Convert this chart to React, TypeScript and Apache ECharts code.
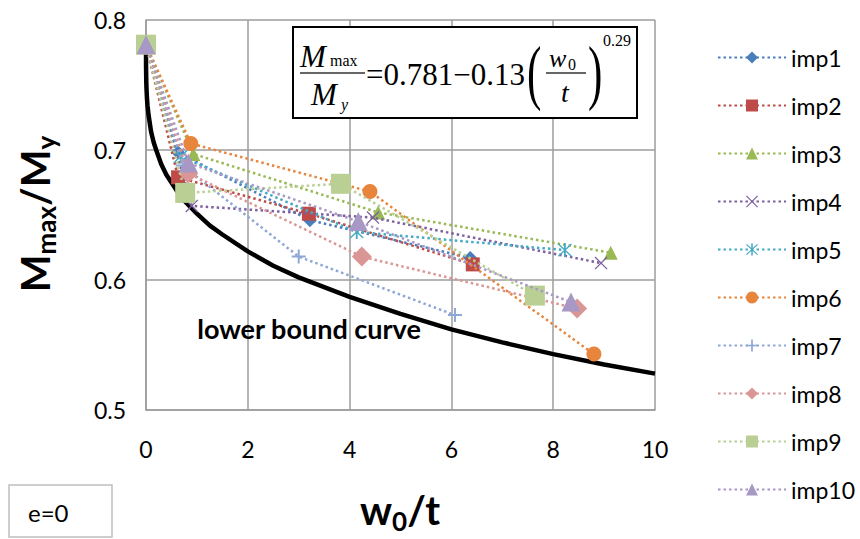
import React, { useEffect, useRef } from "react";
import * as echarts from "echarts";

// ---------- data ----------
const xTicks = [0, 2, 4, 6, 8, 10];
const yTicks = [0.5, 0.6, 0.7, 0.8];

const seriesNames = ["imp1", "imp2", "imp3", "imp4", "imp5", "imp6", "imp7", "imp8", "imp9", "imp10"];

const imp1X = [0, 0.63, 3.22, 6.37];
const imp1Y = [0.781, 0.698, 0.646, 0.617];
const imp2X = [0, 0.63, 3.2, 6.42];
const imp2Y = [0.781, 0.679, 0.651, 0.612];
const imp3X = [0, 0.93, 4.56, 9.13];
const imp3Y = [0.781, 0.697, 0.652, 0.621];
const imp4X = [0, 0.9, 4.46, 8.94];
const imp4Y = [0.781, 0.657, 0.648, 0.613];
const imp5X = [0, 0.68, 4.14, 8.23];
const imp5Y = [0.781, 0.695, 0.637, 0.623];
const imp6X = [0, 0.88, 4.4, 8.8];
const imp6Y = [0.781, 0.705, 0.668, 0.543];
const imp7X = [0, 0.72, 3.0, 6.07];
const imp7Y = [0.781, 0.688, 0.618, 0.573];
const imp8X = [0, 0.83, 4.24, 8.47];
const imp8Y = [0.781, 0.682, 0.618, 0.578];
const imp9X = [0, 0.77, 3.83, 7.64];
const imp9Y = [0.781, 0.667, 0.674, 0.588];
const imp10X = [0, 0.83, 4.17, 8.35];
const imp10Y = [0.781, 0.69, 0.645, 0.583];

const curveX = [0, 0.001, 0.005, 0.01, 0.02, 0.03, 0.05, 0.1, 0.15, 0.2, 0.3, 0.4, 0.5, 0.6, 0.75, 0.8, 1, 1.25, 1.5, 2, 2.5, 3, 4, 5, 6, 7, 8, 9, 10];
const curveY = [0.781, 0.764, 0.753, 0.747, 0.739, 0.734, 0.727, 0.714, 0.706, 0.7, 0.689, 0.681, 0.675, 0.669, 0.661, 0.659, 0.651, 0.642, 0.635, 0.622, 0.611, 0.602, 0.587, 0.574, 0.562, 0.552, 0.543, 0.535, 0.528];

const curveLabel = "lower bound curve";
const boxLabel = "e=0";

// ---------- styles ----------
const colors = ["#4A7EBB", "#BE4B48", "#98B954", "#7D60A0", "#46AAC5", "#E8853D", "#8EA7D6", "#D99694", "#B9CF94", "#A898C5"];
const PLUS = "path://M-1,-7L1,-7L1,-1L7,-1L7,1L1,1L1,7L-1,7L-1,1L-7,1L-7,-1L-1,-1Z";
const CROSS = "path://M-6,-7L7,6L6,7L-7,-6Z M6,-7L7,-6L-6,7L-7,6Z";
const STAR = "path://M-6,-7L7,6L6,7L-7,-6Z M6,-7L7,-6L-6,7L-7,6Z M-0.9,-7.5L0.9,-7.5L0.9,7.5L-0.9,7.5Z";
const symbols = ["diamond", "rect", "triangle", CROSS, STAR, "circle", PLUS, "diamond", "rect", "triangle"];
const symbolSizes = [14, 14, 14, 13, 14, 15, 14, 20, 20, 19];

const SANS = "Lato, 'Open Sans', sans-serif";
const SERIF = "'Liberation Serif', 'DejaVu Serif', serif";
const GRID = "#9C9C9C";

const allX = [imp1X, imp2X, imp3X, imp4X, imp5X, imp6X, imp7X, imp8X, imp9X, imp10X];
const allY = [imp1Y, imp2Y, imp3Y, imp4Y, imp5Y, imp6Y, imp7Y, imp8Y, imp9Y, imp10Y];

export default function App() {
  const ref = useRef<HTMLDivElement>(null);
  useEffect(() => {
    if (!ref.current) return;
    const chart = echarts.init(ref.current, undefined, { renderer: "svg" });

    const impSeries = seriesNames.map((name, i) => ({
      name,
      type: "line",
      data: allX[i].map((x, k) => [x, allY[i][k]]),
      symbol: symbols[i],
      symbolSize: symbolSizes[i],
      showAllSymbol: true,
      color: colors[i],
      itemStyle: { color: colors[i], borderWidth: 0 },
      lineStyle: { color: colors[i], width: 2.5, type: [2.5, 3] },
      z: 3 + i,
    }));

    chart.setOption({
      animation: false,
      grid: { left: 146, right: 205, top: 20, bottom: 129, containLabel: false },
      xAxis: {
        type: "value",
        min: 0,
        max: 10,
        interval: 2,
        axisLine: { show: true, lineStyle: { color: GRID, width: 1.5 } },
        axisTick: { show: false },
        splitLine: { show: true, lineStyle: { color: GRID, width: 1.5 } },
        axisLabel: { fontSize: 23, color: "#000", margin: 27, fontFamily: SANS, formatter: (v: number) => (xTicks.includes(v) ? String(v) : "") },
      },
      yAxis: {
        type: "value",
        min: 0.5,
        max: 0.8,
        interval: 0.1,
        axisLine: { show: true, lineStyle: { color: GRID, width: 1.5 } },
        axisTick: { show: false },
        splitLine: { show: true, lineStyle: { color: GRID, width: 1.5 } },
        axisLabel: {
          fontSize: 23,
          color: "#000",
          margin: 20,
          fontFamily: SANS,
          formatter: (v: number) => {
            const t = yTicks.find((y) => Math.abs(y - v) < 1e-6);
            return t === undefined ? "" : t.toFixed(1);
          },
        },
      },
      legend: {
        orient: "vertical",
        left: 712,
        top: 41,
        itemWidth: 68,
        itemHeight: 15,
        itemGap: 25,
        data: seriesNames,
        textStyle: { fontSize: 23, color: "#000", fontFamily: SANS },
      },
      series: [
        {
          name: "lower bound",
          type: "line",
          data: curveX.map((x, k) => [x, curveY[k]]),
          showSymbol: false,
          symbol: "none",
          smooth: false,
          lineStyle: { color: "#000", width: 4.5, join: "round" },
          z: 2,
        },
        ...impSeries,
      ],
      graphic: [
        // formula box
        { type: "rect", shape: { x: 293, y: 27, width: 344, height: 91 }, style: { fill: "#fff", stroke: "#000", lineWidth: 2 }, z: 20 },
        { type: "text", x: 300, y: 56, style: { text: "M", font: `italic 31px ${SERIF}`, fill: "#000", verticalAlign: "middle" }, z: 21 },
        { type: "text", x: 330, y: 60, style: { text: "max", font: `16px ${SERIF}`, fill: "#000", verticalAlign: "middle" }, z: 21 },
        { type: "line", shape: { x1: 300, y1: 73, x2: 365, y2: 73 }, style: { stroke: "#333", lineWidth: 1.5 }, z: 21 },
        { type: "text", x: 311, y: 94, style: { text: "M", font: `italic 31px ${SERIF}`, fill: "#000", verticalAlign: "middle" }, z: 21 },
        { type: "text", x: 341, y: 104, style: { text: "y", font: `italic 16px ${SERIF}`, fill: "#000", verticalAlign: "middle" }, z: 21 },
        { type: "text", x: 366, y: 74, style: { text: "=0.781\u22120.13", font: `31px ${SERIF}`, fill: "#000", verticalAlign: "middle" }, z: 21 },
        { type: "text", x: 527, y: 72, scaleX: 0.6, style: { text: "(", font: `72px ${SERIF}`, fill: "#000", verticalAlign: "middle" }, z: 21 },
        { type: "text", x: 549, y: 58, style: { text: "w", font: `italic 26px ${SERIF}`, fill: "#000", verticalAlign: "middle" }, z: 21 },
        { type: "text", x: 568, y: 64, style: { text: "0", font: `16px ${SERIF}`, fill: "#000", verticalAlign: "middle" }, z: 21 },
        { type: "line", shape: { x1: 546, y1: 73, x2: 586, y2: 73 }, style: { stroke: "#333", lineWidth: 1.5 }, z: 21 },
        { type: "text", x: 561, y: 92, style: { text: "t", font: `italic 28px ${SERIF}`, fill: "#000", verticalAlign: "middle" }, z: 21 },
        { type: "text", x: 588, y: 72, scaleX: 0.6, style: { text: ")", font: `72px ${SERIF}`, fill: "#000", verticalAlign: "middle" }, z: 21 },
        { type: "text", x: 603, y: 40, style: { text: "0.29", font: `16px ${SERIF}`, fill: "#000", verticalAlign: "middle" }, z: 21 },
        // curve label
        { type: "text", x: 309, y: 328, style: { text: curveLabel, font: `bold 27px ${SANS}`, fill: "#000", align: "center", verticalAlign: "middle" }, z: 21 },
        // e=0 box
        { type: "rect", shape: { x: 9, y: 485, width: 103, height: 52 }, style: { fill: "#fff", stroke: "#BFBFBF", lineWidth: 1.5 }, z: 20 },
        { type: "text", x: 28, y: 512, style: { text: boxLabel, font: `24px ${SANS}`, fill: "#000", verticalAlign: "middle" }, z: 21 },
        // x axis title
        {
          type: "text",
          x: 400,
          y: 510,
          style: {
            text: "{a|w}{s|0}{a|/t}",
            align: "center",
            verticalAlign: "middle",
            rich: {
              a: { fontSize: 40, fontWeight: "bold", fontFamily: SANS, lineHeight: 48, verticalAlign: "middle", fill: "#000" },
              s: { fontSize: 26, fontWeight: "bold", fontFamily: SANS, lineHeight: 20, verticalAlign: "bottom", fill: "#000" },
            },
          },
          z: 21,
        },
        // y axis title
        {
          type: "text",
          x: 35,
          y: 214,
          rotation: Math.PI / 2,
          style: {
            text: "{a|M}{s|max}{a|/M}{s|y}",
            align: "center",
            verticalAlign: "middle",
            rich: {
              a: { fontSize: 40, fontWeight: "bold", fontFamily: SANS, lineHeight: 48, verticalAlign: "middle", fill: "#000" },
              s: { fontSize: 26, fontWeight: "bold", fontFamily: SANS, lineHeight: 24, verticalAlign: "bottom", fill: "#000" },
            },
          },
          z: 21,
        },
      ],
    });
    return () => chart.dispose();
  }, []);
  return <div ref={ref} style={{ position: "fixed", left: 0, top: 0, width: 860, height: 539, background: "#fff" }} />;
}
